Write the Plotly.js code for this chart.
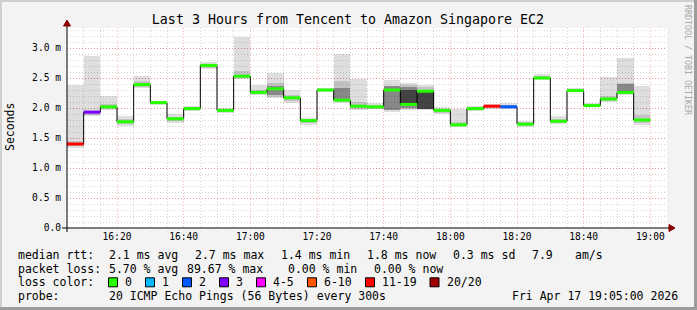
<!DOCTYPE html>
<html><head><meta charset="utf-8">
<script src="https://cdn.plot.ly/plotly-3.0.1.min.js"></script>
<style>html,body{margin:0;padding:0;background:#f3f3f3}#chart{width:697px;height:310px}</style>
</head><body><div id="chart"></div>
<script>
// ---- data (milliseconds) ----
const chartTitle = 'Last 3 Hours from Tencent to Amazon Singapore EC2';
const startMs = Date.UTC(2026, 3, 17, 16, 5, 0);
const stepMs = 300000;
const medianMs = [1.40,1.93,2.02,1.77,2.39,2.09,1.82,1.99,2.71,1.96,2.53,2.26,2.32,2.17,1.79,2.30,2.13,2.03,2.02,2.30,2.06,2.28,1.96,1.72,1.99,2.03,2.02,1.73,2.50,1.78,2.29,2.04,2.15,2.26,1.80];
const smokeMin = [1.33,1.87,1.97,1.70,2.33,2.05,1.75,1.95,2.65,1.91,2.49,2.21,2.16,2.09,1.72,2.27,2.09,1.97,1.98,1.94,1.97,1.97,1.90,1.69,1.95,1.99,1.99,1.69,2.47,1.73,2.27,2.01,2.10,2.21,1.72];
const smokeMax = [2.38,2.86,2.20,1.87,2.53,2.12,1.90,2.03,2.77,2.00,3.19,2.38,2.58,2.30,1.84,2.34,2.90,2.48,2.08,2.46,2.41,2.38,2.01,1.98,2.03,2.07,2.08,1.79,2.57,1.86,2.34,2.08,2.52,2.83,2.37];
const innerLo = [1.36,1.88,1.98,1.73,2.35,2.07,1.78,1.96,2.67,1.93,2.50,2.23,2.18,2.12,1.75,2.28,2.11,1.99,1.99,1.97,1.98,1.98,1.92,1.70,1.97,2.01,2.00,1.71,2.48,1.75,2.28,2.02,2.12,2.23,1.75];
const innerHi = [1.45,1.97,2.07,1.82,2.45,2.10,1.85,2.01,2.74,1.98,2.61,2.30,2.42,2.22,1.82,2.32,2.45,2.10,2.05,2.37,2.38,2.35,1.99,1.76,2.01,2.05,2.05,1.77,2.54,1.82,2.32,2.06,2.20,2.42,1.88];
const denseLo = [null,null,null,null,null,null,null,null,null,null,null,null,2.22,null,null,null,2.13,null,null,1.97,2.00,1.99,null,null,null,null,null,null,null,null,null,null,null,2.26,null];
const denseHi = [null,null,null,null,null,null,null,null,null,null,null,null,2.36,null,null,null,2.33,null,null,2.37,2.35,2.30,null,null,null,null,null,null,null,null,null,null,null,2.40,null];
const coreLo = [null,null,null,null,null,null,null,null,null,null,null,null,null,null,null,null,null,null,null,null,2.05,1.99,null,null,null,null,null,null,null,null,null,null,null,null,null];
const coreHi = [null,null,null,null,null,null,null,null,null,null,null,null,null,null,null,null,null,null,null,null,2.30,2.28,null,null,null,null,null,null,null,null,null,null,null,null,null];
const lossIdx = [6,3,0,0,0,0,0,0,0,0,0,0,0,0,0,0,0,0,0,0,0,0,0,0,0,6,2,0,0,0,0,0,0,0,0];
const lossLabels = ['0','1','2','3','4-5','6-10','11-19','20/20'];
const lossColors = ['#26ff00','#00b8ff','#0059ff','#7e00ff','#ff00ff','#ff5500','#ff0000','#a10000'];
const yTickVals = [0,0.5,1,1.5,2,2.5,3];
const yTickText = ['0.0','0.5 m','1.0 m','1.5 m','2.0 m','2.5 m','3.0 m'];
const rttStats = ['2.1 ms avg','2.7 ms max','1.4 ms min','1.8 ms now','0.3 ms sd','7.9','am/s'];
const lossStats = ['5.70 % avg','89.67 % max','0.00 % min','0.00 % now'];
const probeText = '20 ICMP Echo Pings (56 Bytes) every 300s';
const dateText = 'Fri Apr 17 19:05:00 2026';

// ---- geometry helpers (plot area 67..667 x 28..228 px) ----
const L = 67, T = 28, W = 600, H = 200;
const PX = p => (p - L) / W;
const PY = p => (T + H - p) / H;
const MONO = 'DejaVu Sans Mono';

const n = medianMs.length;
const stepStart = medianMs.map((_, i) => startMs + i * stepMs);
const stepMid = stepStart.map(t => t + stepMs / 2);

function band(lo, hi, color) {
  return {type: 'bar', x: stepMid, base: lo,
    y: hi.map((h, i) => (h == null || lo[i] == null) ? null : h - lo[i]),
    width: stepMs, marker: {color: color, line: {width: 0}},
    hoverinfo: 'skip', showlegend: false};
}
const traces = [
  band(smokeMin, smokeMax, 'rgba(0,0,0,0.13)'),
  band(innerLo, innerHi, 'rgba(0,0,0,0.12)'),
  band(denseLo, denseHi, 'rgba(0,0,0,0.30)'),
  band(coreLo, coreHi, 'rgba(0,0,0,0.50)'),
  {type: 'scatter', mode: 'lines', x: stepStart.concat([startMs + n * stepMs]),
   y: medianMs.concat([medianMs[n - 1]]), line: {shape: 'hv', color: '#000', width: 1},
   hoverinfo: 'skip', showlegend: false}
];
lossColors.forEach((c, k) => {
  const xs = [], ys = [];
  lossIdx.forEach((li, i) => { if (li === k) { xs.push(stepStart[i], stepStart[i] + stepMs, null); ys.push(medianMs[i], medianMs[i], null); } });
  if (xs.length) traces.push({type: 'scatter', mode: 'lines', x: xs, y: ys, connectgaps: false,
    line: {color: c, width: 3}, hoverinfo: 'skip', showlegend: false});
});

const ann = [];
function txt(s, x, y, opt) {
  ann.push(Object.assign({text: s, x: PX(x), y: PY(y), xref: 'paper', yref: 'paper', showarrow: false,
    xanchor: 'left', yanchor: 'middle', font: {family: MONO, size: 11.5, color: '#000'}}, opt || {}));
}
const r1 = 255, r2 = 268.5, r3 = 282.3, r4 = 296;
txt('median rtt:', 16, r1);
[107, 193, 279, 365, 451, 530, 573].forEach((x, i) => txt(rttStats[i], x, r1));
txt('packet loss:', 16, r2);
[107, 185, 286, 372].forEach((x, i) => txt(lossStats[i], x, r2));
txt('loss color:', 16, r3);
const swX = [108.5, 145.5, 182.5, 219.5, 256.5, 307.5, 365.5, 430];
const swTX = [123, 160, 197, 234, 271, 322, 380, 444.5];
const shapes = [];
lossLabels.forEach((lab, i) => {
  txt(lab, swTX[i], r3);
  shapes.push({type: 'rect', xref: 'paper', yref: 'paper', x0: PX(swX[i]), x1: PX(swX[i] + 9),
    y0: PY(r3 + 4.5), y1: PY(r3 - 4.5), fillcolor: lossColors[i], line: {color: '#000', width: 1}});
});
txt('probe:', 16, r4);
txt(probeText, 107, r4);
txt(dateText, 680, r4, {xanchor: 'right'});
txt('Seconds', 10, 127, {xanchor: 'center', textangle: -90});
txt('RRDTOOL / TOBI OETIKER', 688, 60, {xanchor: 'center', textangle: 90, font: {family: MONO, size: 8.3, color: '#a8a8a8'}});

// axes lines & arrows
const arrowCol = '#8b0000';
shapes.push({type: 'line', xref: 'paper', yref: 'paper', x0: PX(62), x1: PX(670), y0: PY(228), y1: PY(228), line: {color: '#000', width: 1}});
shapes.push({type: 'line', xref: 'paper', yref: 'paper', x0: PX(67), x1: PX(67), y0: PY(232), y1: PY(24), line: {color: '#000', width: 1}});
shapes.push({type: 'path', xref: 'paper', yref: 'paper', path: `M ${PX(669)} ${PY(224.5)} L ${PX(675)} ${PY(228)} L ${PX(669)} ${PY(231.5)} Z`, fillcolor: arrowCol, line: {color: arrowCol, width: 1}});
shapes.push({type: 'path', xref: 'paper', yref: 'paper', path: `M ${PX(63.5)} ${PY(26)} L ${PX(67)} ${PY(20)} L ${PX(70.5)} ${PY(26)} Z`, fillcolor: arrowCol, line: {color: arrowCol, width: 1}});
// frame
shapes.push({type: 'rect', xref: 'paper', yref: 'paper', x0: PX(0), x1: PX(2), y0: PY(310), y1: PY(0), fillcolor: '#cfcfcf', line: {width: 0}});
shapes.push({type: 'rect', xref: 'paper', yref: 'paper', x0: PX(0), x1: PX(697), y0: PY(2), y1: PY(0), fillcolor: '#cfcfcf', line: {width: 0}});
shapes.push({type: 'rect', xref: 'paper', yref: 'paper', x0: PX(694), x1: PX(697), y0: PY(310), y1: PY(0), fillcolor: '#9c9c9c', line: {width: 0}});
shapes.push({type: 'rect', xref: 'paper', yref: 'paper', x0: PX(0), x1: PX(697), y0: PY(310), y1: PY(307), fillcolor: '#9c9c9c', line: {width: 0}});

const majorGrid = 'rgba(255,0,0,0.3)', minorGrid = 'rgba(128,128,128,0.33)';
const layout = {
  width: 697, height: 310,
  margin: {l: L, r: 697 - L - W, t: T, b: 310 - T - H, pad: 0},
  paper_bgcolor: '#f3f3f3', plot_bgcolor: '#ffffff',
  barmode: 'overlay', bargap: 0, showlegend: false,
  title: {text: chartTitle, x: PX(348), xref: 'paper', xanchor: 'center', y: 1 - 19 / 310, yref: 'container', yanchor: 'middle',
    font: {family: MONO, size: 13.3, color: '#000'}},
  xaxis: {type: 'date', range: [startMs, startMs + 36 * stepMs], tickformat: '%H:%M',
    tickmode: 'linear', tick0: Date.UTC(2026, 3, 17, 16, 0, 0), dtick: 1200000,
    showgrid: true, gridcolor: majorGrid, griddash: '1px,2px', gridwidth: 1,
    ticks: '', ticklabelstandoff: 1,
    minor: {tickmode: 'linear', dtick: 300000, showgrid: true, gridcolor: minorGrid, griddash: '1px,2px'},
    showline: false, zeroline: false, layer: 'above traces', fixedrange: true,
    tickfont: {family: MONO, size: 9.6, color: '#000'}},
  yaxis: {range: [0, H / 60], tickmode: 'array', tickvals: yTickVals, ticktext: yTickText,
    showgrid: true, gridcolor: majorGrid, griddash: '1px,2px', gridwidth: 1,
    ticks: '', ticklabelstandoff: 5,
    minor: {tickmode: 'linear', tick0: 0, dtick: 0.1, showgrid: true, gridcolor: minorGrid, griddash: '1px,2px'},
    showline: false, zeroline: false, layer: 'above traces', fixedrange: true,
    tickfont: {family: MONO, size: 9.6, color: '#000'}},
  annotations: ann, shapes: shapes
};
Plotly.newPlot('chart', traces, layout, {staticPlot: true, displayModeBar: false});
</script></body></html>
